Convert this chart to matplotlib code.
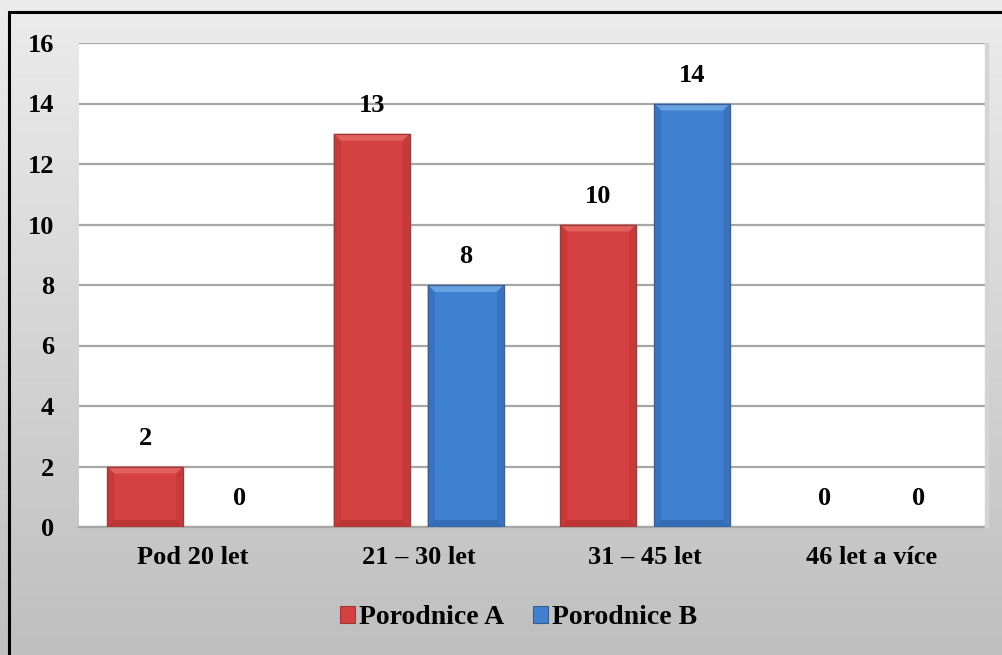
import numpy as np
import matplotlib
matplotlib.use("Agg")
import matplotlib.pyplot as plt
from matplotlib.patches import Rectangle, Polygon
from matplotlib.colors import LinearSegmentedColormap

categories = ["Pod 20 let", "21 – 30 let", "31 – 45 let", "46 let a více"]
series_names = ["Porodnice A", "Porodnice B"]
porodnice_a = [2, 13, 10, 0]
porodnice_b = [0, 8, 14, 0]
y_ticks = [0, 2, 4, 6, 8, 10, 12, 14, 16]

plt.rcParams["font.family"] = ["Liberation Serif", "DejaVu Serif"]
plt.rcParams["font.weight"] = "bold"

W, H = 1003, 655
fig = plt.figure(figsize=(W / 100, H / 100), dpi=100)

# gradient chart-area background
bg = fig.add_axes([0, 0, 1, 1], zorder=-10)
grad = np.linspace(0, 1, 256).reshape(-1, 1)
cmap_bg = LinearSegmentedColormap.from_list("bg", ["#ececec", "#bfbfbf"])
bg.imshow(grad, aspect="auto", cmap=cmap_bg, extent=[0, 1, 0, 1], origin="upper")
bg.set_xlim(0, 1)
bg.set_ylim(0, 1)
bg.axis("off")

# outer frame (runs off the right and bottom edges)
fig.patches.append(Rectangle((9 / W, -0.05), 1.2, 1 - 12 / H + 0.05,
                             transform=fig.transFigure, fill=False,
                             edgecolor="black", linewidth=2.2, zorder=5))

left, right, top, bottom = 79, 985, 43, 527
ax = fig.add_axes([left / W, (H - bottom) / H, (right - left) / W, (bottom - top) / H])
ax.set_facecolor("white")
ax.set_ylim(0, 16)
ax.set_xlim(-0.5, len(categories) - 0.5)
ax.set_yticks(y_ticks)
ax.set_yticklabels([str(t) for t in y_ticks])
ax.grid(axis="y", color="#a6a6a6", linewidth=1.6)
ax.set_axisbelow(True)
for s in ["left", "top", "right"]:
    ax.spines[s].set_visible(False)
ax.spines["bottom"].set_color("#a6a6a6")
ax.spines["bottom"].set_linewidth(1.6)
ax.tick_params(axis="both", length=0, labelsize=19)
ax.tick_params(axis="y", pad=18)
ax.tick_params(axis="x", pad=14)
ax.set_xticks(range(len(categories)))
ax.set_xticklabels(categories)

# soft shadow along right edge of the plot area
fig.patches.append(Rectangle((right / W, (H - bottom) / H), 3 / W, (bottom - top) / H,
                             transform=fig.transFigure, color="#d4d4d4", zorder=1))

x = np.arange(len(categories))
offset = 0.2075
width = 0.336

palettes = {
    "A": dict(main="#d54040", top="#e2615d", side="#c63a3a", bottom="#bd3636", edge="#9c3a3a"),
    "B": dict(main="#3f80d1", top="#67a0e3", side="#3873c0", bottom="#346cb6", edge="#3d5f8c"),
}

ppx = 226.5  # pixels per category step
ppy = 30.25  # pixels per unit


def bevel(ax, bar, pal):
    x0, y0 = bar.get_x(), bar.get_y()
    w, h = bar.get_width(), bar.get_height()
    if h <= 0:
        return
    bx = 7 / ppx
    by = min(7 / ppy, h / 2)
    x1 = x0 + w
    y1 = y0 + h
    kw = dict(closed=True, linewidth=0, zorder=3)
    ax.add_patch(Polygon([(x0, y1), (x1, y1), (x1 - bx, y1 - by), (x0 + bx, y1 - by)],
                         facecolor=pal["top"], **kw))
    ax.add_patch(Polygon([(x0, y0), (x0 + bx, y0 + by), (x0 + bx, y1 - by), (x0, y1)],
                         facecolor=pal["side"], **kw))
    ax.add_patch(Polygon([(x1, y0), (x1 - bx, y0 + by), (x1 - bx, y1 - by), (x1, y1)],
                         facecolor=pal["side"], **kw))
    ax.add_patch(Polygon([(x0, y0), (x1, y0), (x1 - bx, y0 + by), (x0 + bx, y0 + by)],
                         facecolor=pal["bottom"], **kw))
    ax.add_patch(Rectangle((x0, y0), w, h, fill=False, edgecolor=pal["edge"],
                           linewidth=0.9, zorder=3.5))


bars_a = ax.bar(x - offset, porodnice_a, width, color=palettes["A"]["main"],
                edgecolor=palettes["A"]["edge"], linewidth=0.8, zorder=2, label=series_names[0])
bars_b = ax.bar(x + offset, porodnice_b, width, color=palettes["B"]["main"],
                edgecolor=palettes["B"]["edge"], linewidth=0.8, zorder=2, label=series_names[1])

for bars, vals, key in [(bars_a, porodnice_a, "A"), (bars_b, porodnice_b, "B")]:
    for bar, v in zip(bars, vals):
        bevel(ax, bar, palettes[key])
        ax.annotate(str(v), (bar.get_x() + bar.get_width() / 2, v),
                    xytext=(0, 12), textcoords="offset points",
                    ha="center", va="bottom", fontsize=19, fontweight="bold", zorder=4)

leg = fig.legend(handles=[bars_a, bars_b], labels=series_names, loc="center",
                 bbox_to_anchor=(0.517, (H - 618) / H), ncol=2, frameon=False,
                 fontsize=20, handlelength=0.55, handleheight=0.55,
                 handletextpad=0.15, columnspacing=1.0)

fig.savefig("out.png", dpi=100)
